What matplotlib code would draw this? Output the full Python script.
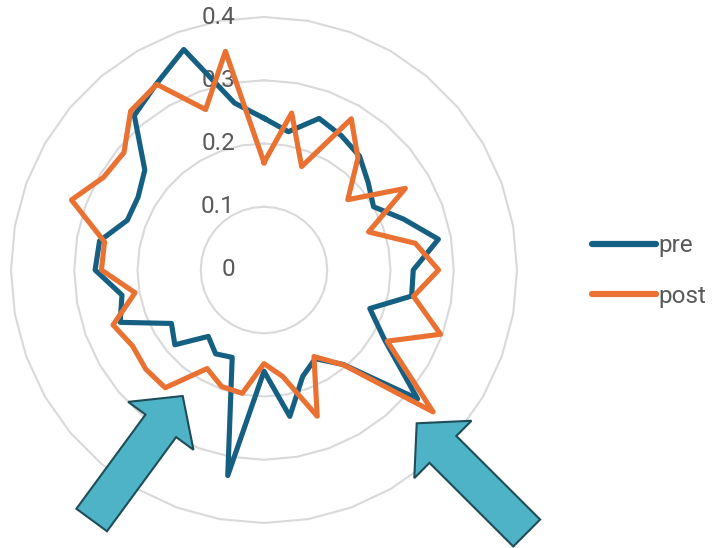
import matplotlib
matplotlib.use("Agg")
import matplotlib.pyplot as plt
from matplotlib.patches import FancyArrow
import numpy as np

# 36 categories around the radar, read clockwise from the top
categories = [f"c{i+1}" for i in range(36)]

pre = [0.240, 0.222, 0.255, 0.245, 0.235, 0.215, 0.200, 0.235, 0.280, 0.236,
       0.237, 0.178, 0.220, 0.317, 0.195, 0.162, 0.179, 0.235, 0.160, 0.330,
       0.147, 0.153, 0.137, 0.184, 0.169, 0.242, 0.228, 0.267, 0.264, 0.230,
       0.230, 0.246, 0.319, 0.340, 0.371, 0.268]

post = [0.170, 0.252, 0.174, 0.276, 0.231, 0.173, 0.258, 0.176, 0.243, 0.276,
        0.240, 0.297, 0.225, 0.349, 0.196, 0.158, 0.246, 0.171, 0.148, 0.198,
        0.196, 0.180, 0.243, 0.244, 0.240, 0.254, 0.207, 0.257, 0.256, 0.324,
        0.293, 0.289, 0.328, 0.339, 0.270, 0.351]

r_ticks = [0, 0.1, 0.2, 0.3, 0.4]
r_tick_labels = ["0", "0.1", "0.2", "0.3", "0.4"]

PRE_COLOR = "#156082"
POST_COLOR = "#E97132"
GRID_COLOR = "#D9D9D9"
TEXT_COLOR = "#595959"

plt.rcParams['font.family'] = ['Roboto', 'DejaVu Sans']

W, H = 712, 548
fig = plt.figure(figsize=(W / 100, H / 100), dpi=100)

# polar axes: centre at (264, 270) px, outer ring radius 253 px
cx, cy, rad = 264, 270, 253
ax = fig.add_axes([(cx - rad) / W, (H - cy - rad) / H, 2 * rad / W, 2 * rad / H],
                  projection="polar")
ax.set_theta_zero_location("N")
ax.set_theta_direction(-1)
ax.set_ylim(0, 0.4)
ax.grid(False)
ax.spines['polar'].set_visible(False)
ax.set_xticks([])
ax.set_yticks([])

n = len(categories)
theta = np.arange(n + 1) * 2 * np.pi / n

# polygon gridlines like the spreadsheet radar chart
for r in r_ticks[1:]:
    ax.plot(theta, [r] * (n + 1), color=GRID_COLOR, lw=1.5, zorder=1, clip_on=False)

for r, lab in zip(r_ticks, r_tick_labels):
    ax.annotate(lab, xy=(0, r), xytext=(-29, 0), textcoords="offset pixels",
                ha="right", va="center", fontsize=17.5, color=TEXT_COLOR, zorder=2)

ax.plot(theta, pre + pre[:1], color=PRE_COLOR, lw=3.7, label="pre",
        solid_joinstyle="round", zorder=3)
ax.plot(theta, post + post[:1], color=POST_COLOR, lw=3.7, label="post",
        solid_joinstyle="round", zorder=4)

fig.legend(loc="center left", bbox_to_anchor=(592 / W, (H - 271) / H),
           frameon=False, fontsize=17.5, labelcolor=TEXT_COLOR,
           handlelength=2.65, handletextpad=0.1, labelspacing=1.15,
           borderpad=0, borderaxespad=0)
for line in fig.legends[0].get_lines():
    line.set_linewidth(4.5)
    line.set_solid_capstyle("round")

# overlay for the two call-out arrows, in pixel units
ov = fig.add_axes([0, 0, 1, 1], zorder=10)
ov.set_xlim(0, W)
ov.set_ylim(H, 0)
ov.axis("off")

for (x0, y0), (x1, y1) in [((91.7, 520), (182.7, 396)), ((526.7, 533), (416.7, 423.3))]:
    ov.add_patch(FancyArrow(x0, y0, x1 - x0, y1 - y0, width=38, head_width=81,
                            head_length=37, length_includes_head=True,
                            facecolor="#4FB3C8", edgecolor="#1E4D58", lw=1.5))

fig.savefig("out.png", dpi=100)
